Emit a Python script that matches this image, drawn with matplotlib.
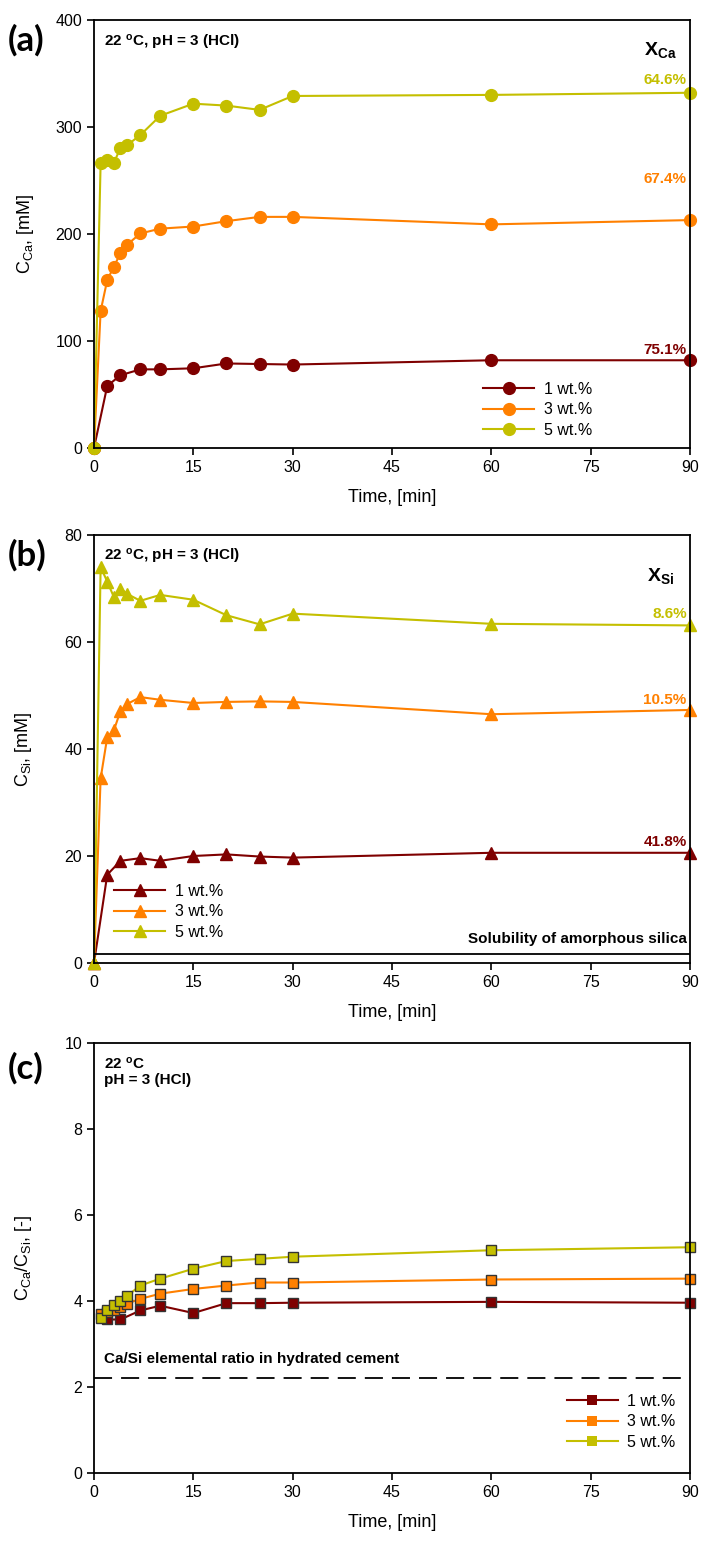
import matplotlib.pyplot as plt

plt.rcParams['font.family'] = ['Liberation Sans', 'DejaVu Sans']
plt.rcParams['mathtext.fontset'] = 'custom'
plt.rcParams['mathtext.rm'] = 'Liberation Sans'
plt.rcParams['mathtext.bf'] = 'Liberation Sans:bold'
plt.rcParams['mathtext.it'] = 'Liberation Sans:italic'

# --- dane ---
czas = [0, 1, 2, 3, 4, 5, 7, 10, 15, 20, 25, 30, 60, 90]
czas_1 = [0, 2, 4, 7, 10, 15, 20, 25, 30, 60, 90]

ca_1 = [0, 58, 68, 73.5, 73.5, 74.5, 79, 78.5, 78, 82, 82]
ca_3 = [0, 128, 157, 169.5, 182, 190, 200.5, 205, 207, 212, 216, 216, 209, 213]
ca_5 = [0, 266, 269, 266.5, 280.5, 283, 292.5, 310.5, 321.8, 320, 316, 329, 330, 332]

si_1 = [0, 16.5, 19.1, 19.6, 19.1, 20.0, 20.3, 19.9, 19.7, 20.6, 20.6]
si_3 = [0, 34.5, 42.2, 43.5, 47.1, 48.4, 49.7, 49.2, 48.6, 48.8, 48.9, 48.8, 46.5, 47.3]
si_5 = [0, 74.0, 71.3, 68.4, 70.0, 69.0, 67.7, 68.8, 67.9, 65.0, 63.3, 65.3, 63.4, 63.1]

czas_r = [1, 2, 3, 4, 5, 7, 10, 15, 20, 25, 30, 60, 90]
czas_r1 = [2, 4, 7, 10, 15, 20, 25, 30, 60, 90]
r_1 = [3.57, 3.57, 3.78, 3.89, 3.72, 3.95, 3.95, 3.96, 3.98, 3.96]
r_3 = [3.70, 3.75, 3.80, 3.86, 3.94, 4.05, 4.17, 4.28, 4.36, 4.43, 4.43, 4.50, 4.52]
r_5 = [3.60, 3.78, 3.91, 4.01, 4.12, 4.36, 4.52, 4.75, 4.93, 4.98, 5.03, 5.18, 5.25]

etykiety = ['1 wt.%', '3 wt.%', '5 wt.%']
x_ca = ['75.1%', '67.4%', '64.6%']
x_ca_y = [92, 251, 344]
x_si = ['41.8%', '10.5%', '8.6%']
x_si_y = [22.6, 49.1, 65.2]
rozpuszczalnosc = 1.7
ca_si_cement = 2.2

kolory = ['#7f0000', '#ff8000', '#c4bf00']

fig = plt.figure(figsize=(7.03, 15.42), dpi=100)
L, W = 94 / 703, 596 / 703
ax1 = fig.add_axes([L, 1 - 448 / 1542, W, 428 / 1542])
ax2 = fig.add_axes([L, 1 - 963 / 1542, W, 428 / 1542])
ax3 = fig.add_axes([L, 1 - 1473 / 1542, W, 430 / 1542])

for ax in (ax1, ax2, ax3):
    ax.set_xlim(0, 90)
    ax.set_xticks(range(0, 91, 15))
    ax.tick_params(direction='out', length=5, width=1.2, labelsize=11.5, top=False, right=False)
    for s in ax.spines.values():
        s.set_linewidth(1.3)
    ax.set_xlabel('Time, [min]', fontsize=13, labelpad=10)

bold = dict(fontweight='bold', fontsize=11)
leg_kw = dict(frameon=False, fontsize=11.5, handlelength=3.2, labelspacing=0.35, handletextpad=0.6)

# --- (a) wapn ---
serie_a = [(czas_1, ca_1), (czas, ca_3), (czas, ca_5)]
for (t, v), k, e in zip(serie_a, kolory, etykiety):
    ax1.plot(t, v, color=k, marker='o', markersize=8.5, linewidth=1.5, label=e, clip_on=False)
ax1.set_ylim(0, 400)
ax1.set_yticks(range(0, 401, 100))
ax1.set_ylabel('C$_{\\mathrm{Ca}}$, [mM]', fontsize=13, labelpad=14)
ax1.text(1.5, 388, '22 $^{\\mathbf{o}}$C, pH = 3 (HCl)', va='top', **bold)
ax1.text(85.5, 372, '$\\mathbf{X_{Ca}}$', ha='center', va='center', fontsize=14)
for s, y, k in zip(x_ca, x_ca_y, kolory):
    ax1.text(89.5, y, s, ha='right', va='center', color=k, **bold)
ax1.legend(loc='lower right', bbox_to_anchor=(0.86, -0.01), **leg_kw)

# --- (b) krzem ---
serie_b = [(czas_1, si_1), (czas, si_3), (czas, si_5)]
for (t, v), k, e in zip(serie_b, kolory, etykiety):
    ax2.plot(t, v, color=k, marker='^', markersize=8.5, linewidth=1.5, label=e, clip_on=False)
ax2.axhline(rozpuszczalnosc, color='black', linewidth=1.3)
ax2.text(89.5, rozpuszczalnosc + 1.5, 'Solubility of amorphous silica', ha='right', va='bottom', **bold)
ax2.set_ylim(0, 80)
ax2.set_yticks(range(0, 81, 20))
ax2.set_ylabel('C$_{\\mathrm{Si}}$, [mM]', fontsize=13, labelpad=22)
ax2.text(1.5, 77.8, '22 $^{\\mathbf{o}}$C, pH = 3 (HCl)', va='top', **bold)
ax2.text(85.5, 72.3, '$\\mathbf{X_{Si}}$', ha='center', va='center', fontsize=14)
for s, y, k in zip(x_si, x_si_y, kolory):
    ax2.text(89.5, y, s, ha='right', va='center', color=k, **bold)
ax2.legend(loc='lower left', bbox_to_anchor=(0.01, 0.02), **leg_kw)

# --- (c) stosunek Ca/Si ---
serie_c = [(czas_r1, r_1), (czas_r, r_3), (czas_r, r_5)]
for (t, v), k, e in zip(serie_c, kolory, etykiety):
    ax3.plot(t, v, color=k, marker='s', markersize=7.5, markeredgecolor='#333333',
             markeredgewidth=1.0, linewidth=1.5, label=e, clip_on=False)
ax3.axhline(ca_si_cement, color='black', linewidth=1.3, linestyle=(0, (10, 5)))
ax3.text(1.5, ca_si_cement + 0.3, 'Ca/Si elemental ratio in hydrated cement', va='bottom', **bold)
ax3.set_ylim(0, 10)
ax3.set_yticks(range(0, 11, 2))
ax3.set_ylabel('C$_{\\mathrm{Ca}}$/C$_{\\mathrm{Si}}$, [-]', fontsize=13, labelpad=22)
ax3.text(1.5, 9.7, '22 $^{\\mathbf{o}}$C\npH = 3 (HCl)', va='top', linespacing=1.1, **bold)
leg = ax3.legend(loc='lower right', bbox_to_anchor=(1.0, 0.02), **leg_kw)
for h in leg.legend_handles:
    h.set_markeredgewidth(0)

# etykiety paneli
for y, lit in zip([40, 555, 1068], ['(a)', '(b)', '(c)']):
    fig.text(8 / 703, 1 - y / 1542, lit, fontsize=25, fontweight='bold', family=['Lato', 'DejaVu Sans'],
             va='center')

fig.savefig('out.png', dpi=100)
